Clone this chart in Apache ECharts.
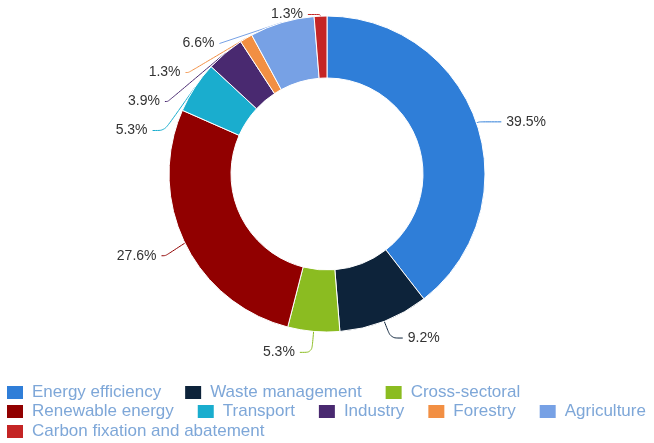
<!DOCTYPE html>
<html>
<head>
<meta charset="utf-8">
<script src="https://cdn.jsdelivr.net/npm/echarts@6/dist/echarts.min.js"></script>
<style>
  html, body { margin: 0; padding: 0; background: #fff; }
  #chart { width: 654px; height: 443px; }
</style>
</head>
<body>
<div id="chart"></div>
<script>
const categories = ['Energy efficiency', 'Waste management', 'Cross-sectoral', 'Renewable energy',
  'Transport', 'Industry', 'Forestry', 'Agriculture', 'Carbon fixation and abatement'];
const shares = [39.5, 9.2, 5.3, 27.6, 5.3, 3.9, 1.3, 6.6, 1.3];
const colors = ['#2f7ed8', '#0d233a', '#8bbc21', '#910000', '#1aadce', '#492970', '#f28f43', '#77a1e5', '#c42525'];
// connector lengths per slice [length, length2]
const connectors = [[3, 22], [18, 12], [21, 12], [29, 4], [16, 12], [16, 12], [16, 12], [16, 12], [16, 12]];
// legend rows as they wrap in the original
const legendRows = [categories.slice(0, 3), categories.slice(3, 8), categories.slice(8)];
const legendTops = [384, 403, 423];

const chart = echarts.init(document.getElementById('chart'));
const font = 'Arial, "Liberation Sans", sans-serif';

const legends = legendRows.map((row, i) => ({
  data: row,
  left: 5,
  top: legendTops[i],
  orient: 'horizontal',
  icon: 'rect',
  itemWidth: 18,
  itemHeight: 15,
  itemGap: 22,
  padding: 0,
  textStyle: { color: '#7ea7d8', fontSize: 17, fontFamily: font, padding: [0, 0, 0, 3] }
}));

chart.setOption({
  color: colors,
  animation: false,
  legend: legends,
  series: [{
    type: 'pie',
    center: [327, 174],
    radius: [96, 158],
    startAngle: 90,
    clockwise: true,
    avoidLabelOverlap: true,
    itemStyle: { borderColor: '#fff', borderWidth: 1 },
    label: {
      show: true,
      position: 'outside',
      color: '#333',
      fontSize: 14,
      lineHeight: 27,
      fontFamily: font,
      formatter: p => p.value.toFixed(1) + '%'
    },
    labelLine: { show: true, smooth: true, lineStyle: { width: 1 } },
    data: categories.map((name, i) => ({
      name,
      value: shares[i],
      labelLine: { length: connectors[i][0], length2: connectors[i][1] }
    }))
  }]
});
</script>
</body>
</html>
